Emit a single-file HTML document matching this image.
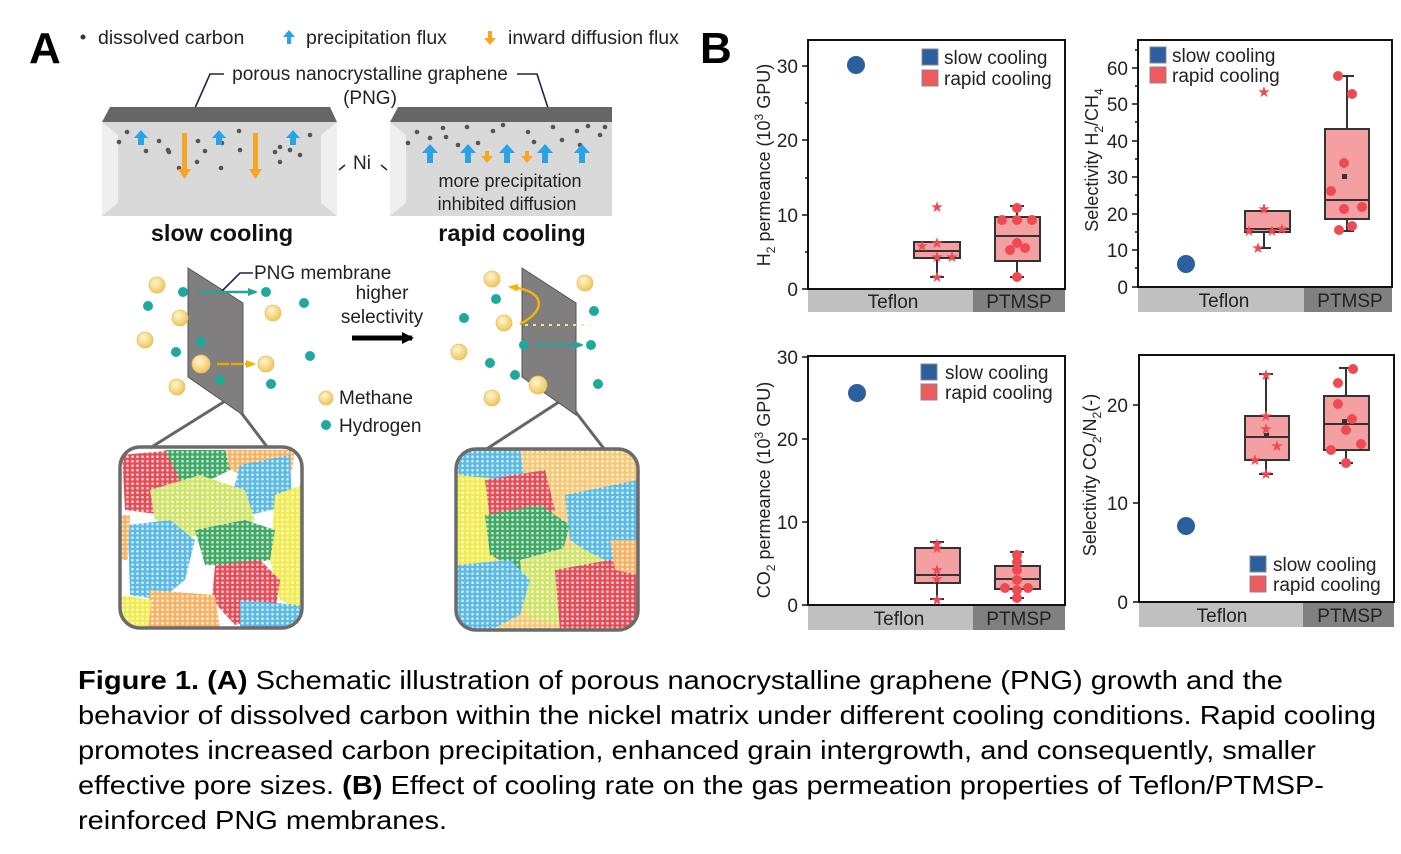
<!DOCTYPE html>
<html><head><meta charset="utf-8"><style>
html,body{margin:0;padding:0;background:#fff;}
svg{display:block;font-family:"Liberation Sans",Arial,sans-serif;}
</style></head><body>
<svg width="1401" height="854" viewBox="0 0 1401 854" xmlns="http://www.w3.org/2000/svg">
<defs>
<radialGradient id="me" cx="40%" cy="35%" r="65%"><stop offset="0" stop-color="#fff6d0"/><stop offset="1" stop-color="#efc65a"/></radialGradient>
<pattern id="hex" width="5" height="4.5" patternUnits="userSpaceOnUse"><circle cx="2.5" cy="2.2" r="1.3" fill="#fff" opacity="0.75"/></pattern>
<marker id="ta" markerUnits="userSpaceOnUse" markerWidth="10" markerHeight="10" refX="8" refY="5" orient="auto"><path d="M0,1 L10,5 L0,9z" fill="#2aa198"/></marker>
<marker id="oa" markerUnits="userSpaceOnUse" markerWidth="10" markerHeight="10" refX="8" refY="5" orient="auto"><path d="M0,1 L10,5 L0,9z" fill="#f4b400"/></marker>
<marker id="ka" markerUnits="userSpaceOnUse" markerWidth="14" markerHeight="14" refX="10" refY="7" orient="auto"><path d="M0,1 L12,7 L0,13z" fill="#000"/></marker>
</defs>

<text x="29" y="63" font-size="44" font-weight="bold">A</text>
<circle cx="83" cy="37" r="2.5" fill="#333"/>
<text x="98" y="44" font-size="19.5" fill="#222">dissolved carbon</text>
<path d="M289,30 l-6,7 h4 v7 h4 v-7 h4z" fill="#29a3e6"/>
<text x="306" y="44" font-size="19.5" fill="#222">precipitation flux</text>
<path d="M490,45 l-6,-7 h4 v-7 h4 v7 h4z" fill="#f6a623"/>
<text x="508" y="44" font-size="19.5" fill="#222">inward diffusion flux</text>

<text x="370" y="80" font-size="19" text-anchor="middle" fill="#222">porous nanocrystalline graphene</text>
<text x="370" y="104" font-size="19" text-anchor="middle" fill="#222">(PNG)</text>
<path d="M224,74 H210 L195,108" stroke="#1a2a44" stroke-width="1.6" fill="none"/>
<path d="M517,74 H537 L548,108" stroke="#1a2a44" stroke-width="1.6" fill="none"/>

<rect x="102" y="122" width="235" height="94" fill="#d9d9d9"/>
<polygon points="102,122 118,135 118,203 102,216" fill="#efefef"/>
<polygon points="337,122 321,135 321,203 337,216" fill="#efefef"/>
<polygon points="110,107 330,107 337,122 102,122" fill="#666"/>
<g fill="#555">
<circle cx="119" cy="142" r="2.3"/><circle cx="127" cy="132" r="2.3"/><circle cx="146" cy="151" r="2.3"/><circle cx="159" cy="141" r="2.3"/><circle cx="168" cy="150" r="2.3"/><circle cx="169" cy="152" r="2.3"/><circle cx="198" cy="141" r="2.3"/><circle cx="205" cy="151" r="2.3"/><circle cx="197" cy="162" r="2.3"/><circle cx="222" cy="143" r="2.3"/><circle cx="240" cy="150" r="2.3"/><circle cx="239" cy="131" r="2.3"/><circle cx="221" cy="168" r="2.3"/><circle cx="275" cy="152" r="2.3"/><circle cx="280" cy="147" r="2.3"/><circle cx="290" cy="150" r="2.3"/><circle cx="300" cy="155" r="2.3"/><circle cx="310" cy="135" r="2.3"/><circle cx="280" cy="162" r="2.3"/><circle cx="179" cy="168" r="2.3"/>
</g>
<g fill="#29a3e6">
<path d="M141,130 l-7,8 h4 v7 h6 v-7 h4z"/><path d="M219,130 l-7,8 h4 v7 h6 v-7 h4z"/><path d="M293,130 l-7,8 h4 v7 h6 v-7 h4z"/>
</g>
<g fill="#f6a623">
<path d="M182,133 h5 v36 h4 l-6.5,10 l-6.5,-10 h4z"/><path d="M253,133 h5 v36 h4 l-6.5,10 l-6.5,-10 h4z"/>
</g>
<text x="362" y="169" font-size="19" text-anchor="middle" fill="#222">Ni</text>
<path d="M339,170 l6,-5 M381,165 l6,5" stroke="#1a2a44" stroke-width="1.5"/>

<rect x="390" y="122" width="222" height="94" fill="#d9d9d9"/>
<polygon points="390,122 406,135 406,203 390,216" fill="#efefef"/>
<polygon points="398,107 612,107 612,122 390,122" fill="#666"/>
<g fill="#555">
<circle cx="408" cy="143" r="2.3"/><circle cx="417" cy="132" r="2.3"/><circle cx="430" cy="138" r="2.3"/><circle cx="443" cy="128" r="2.3"/><circle cx="446" cy="137" r="2.3"/><circle cx="467" cy="127" r="2.3"/><circle cx="493" cy="131" r="2.3"/><circle cx="503" cy="125" r="2.3"/><circle cx="478" cy="143" r="2.3"/><circle cx="528" cy="132" r="2.3"/><circle cx="553" cy="127" r="2.3"/><circle cx="534" cy="142" r="2.3"/><circle cx="562" cy="140" r="2.3"/><circle cx="577" cy="131" r="2.3"/><circle cx="588" cy="126" r="2.3"/><circle cx="600" cy="135" r="2.3"/><circle cx="605" cy="127" r="2.3"/><circle cx="580" cy="145" r="2.3"/><circle cx="458" cy="145" r="2.3"/>
</g>
<g fill="#29a3e6">
<path d="M430,144 l-8,9 h5 v10 h6 v-10 h5z"/><path d="M468,144 l-8,9 h5 v10 h6 v-10 h5z"/><path d="M507,144 l-8,9 h5 v10 h6 v-10 h5z"/><path d="M545,144 l-8,9 h5 v10 h6 v-10 h5z"/><path d="M582,144 l-8,9 h5 v10 h6 v-10 h5z"/>
</g>
<g fill="#f6a623"><path d="M485,151 h4 v5 h4 l-6,7 l-6,-7 h4z"/><path d="M525,151 h4 v5 h4 l-6,7 l-6,-7 h4z"/></g>
<text x="510" y="187" font-size="18" text-anchor="middle" fill="#222">more precipitation</text>
<text x="507" y="210" font-size="18" text-anchor="middle" fill="#222">inhibited diffusion</text>

<text x="222" y="241" font-size="23.5" font-weight="bold" text-anchor="middle" fill="#111">slow cooling</text>
<text x="512" y="241" font-size="23.5" font-weight="bold" text-anchor="middle" fill="#111">rapid cooling</text>

<path d="M230,398 L150,448 M233,402 L268,448" stroke="#666" stroke-width="3"/>
<path d="M565,398 L485,450 M568,402 L605,450" stroke="#666" stroke-width="3"/>
<polygon points="188,268 243,303 243,415 188,377" fill="#807e7e" stroke="#555" stroke-width="1"/>
<polygon points="522,268 576,303 576,415 522,377" fill="#807e7e" stroke="#555" stroke-width="1"/>
<path d="M253,273 H240 L220,293" stroke="#1a2a44" stroke-width="1.6" fill="none"/>
<text x="254" y="279" font-size="19" fill="#222">PNG membrane</text>
<text x="382" y="299" font-size="19" text-anchor="middle" fill="#222">higher</text>
<text x="382" y="323" font-size="19" text-anchor="middle" fill="#222">selectivity</text>
<line x1="352" y1="338" x2="412" y2="338" stroke="#000" stroke-width="5" marker-end="url(#ka)"/>

<g fill="url(#me)" stroke="#e8c060" stroke-width="0.8">
<circle cx="157" cy="285" r="8"/><circle cx="180" cy="318" r="8"/><circle cx="145" cy="340" r="8"/><circle cx="201" cy="364" r="9"/><circle cx="177" cy="387" r="8"/><circle cx="266" cy="364" r="8"/><circle cx="273" cy="313" r="8"/>
<circle cx="492" cy="279" r="8"/><circle cx="585" cy="283" r="8"/><circle cx="504" cy="323" r="8"/><circle cx="459" cy="352" r="8"/><circle cx="538" cy="385" r="9"/><circle cx="492" cy="398" r="8"/>
<circle cx="326" cy="398" r="7"/>
</g>
<g fill="#1fa99c">
<circle cx="183" cy="292" r="5"/><circle cx="266" cy="292" r="5"/><circle cx="148" cy="306" r="5"/><circle cx="304" cy="303" r="5"/><circle cx="176" cy="352" r="5"/><circle cx="201" cy="342" r="5"/><circle cx="220" cy="380" r="5"/><circle cx="310" cy="356" r="5"/><circle cx="271" cy="384" r="5"/>
<circle cx="496" cy="299" r="5"/><circle cx="464" cy="318" r="5"/><circle cx="594" cy="311" r="5"/><circle cx="524" cy="345" r="5"/><circle cx="591" cy="345" r="5"/><circle cx="490" cy="363" r="5"/><circle cx="515" cy="375" r="5"/><circle cx="598" cy="384" r="5"/>
<circle cx="326" cy="425" r="5"/>
</g>
<line x1="198" y1="292" x2="256" y2="292" stroke="#2aa198" stroke-width="2.5" marker-end="url(#ta)"/>
<line x1="217" y1="364" x2="254" y2="364" stroke="#e8a800" stroke-width="2.5" stroke-dasharray="12,2" marker-end="url(#oa)"/>
<line x1="536" y1="345" x2="582" y2="345" stroke="#2aa198" stroke-width="2.5" marker-end="url(#ta)"/>
<path d="M520,324 C548,310 545,290 510,287" stroke="#f4b400" stroke-width="2.5" fill="none" marker-end="url(#oa)"/>
<line x1="525" y1="325" x2="590" y2="325" stroke="#f9e29a" stroke-width="2" stroke-dasharray="3,5"/>
<text x="339" y="404" font-size="19" fill="#222">Methane</text>
<text x="339" y="432" font-size="19" fill="#222">Hydrogen</text>

<clipPath id="cl"><rect x="120" y="447" width="182" height="181" rx="20"/></clipPath>
<clipPath id="cr"><rect x="456" y="449" width="182" height="181" rx="20"/></clipPath>
<g clip-path="url(#cl)" opacity="0.85">
<polygon points="122,455 175,450 190,475 185,500 165,515 125,510" fill="#e0303c"/>
<polygon points="165,450 230,450 230,470 200,485 180,480" fill="#1f9a4a"/>
<polygon points="225,450 295,450 292,470 255,480 230,470" fill="#f5a54a"/>
<polygon points="240,465 290,455 292,505 250,515 232,495" fill="#3fb0e0"/>
<polygon points="150,490 200,475 245,490 255,520 230,540 185,535 155,520" fill="#c8e050"/>
<polygon points="275,495 302,485 302,610 280,600 270,560" fill="#f0e830"/>
<polygon points="128,525 170,520 195,540 185,580 160,600 130,595" fill="#3fb0e0"/>
<polygon points="195,530 245,520 275,530 270,560 240,565 205,565" fill="#1f9a4a"/>
<polygon points="215,565 260,560 280,580 275,615 235,625 212,600" fill="#e0303c"/>
<polygon points="150,590 215,595 220,628 145,628" fill="#f5a54a"/>
<polygon points="120,595 152,600 148,628 120,628" fill="#f0e830"/>
<polygon points="240,600 300,605 300,628 240,628" fill="#3fb0e0"/>
<polygon points="120,515 130,515 128,560 120,560" fill="#f5a54a"/>
</g>
<rect x="120" y="447" width="182" height="181" rx="20" fill="url(#hex)"/>
<rect x="120" y="447" width="182" height="181" rx="20" fill="none" stroke="#6b6b6b" stroke-width="3.5"/>
<g clip-path="url(#cr)" opacity="0.85">
<rect x="456" y="449" width="182" height="181" fill="#f5c060"/>
<polygon points="456,449 520,449 525,485 470,485 456,470" fill="#3fb0e0"/>
<polygon points="456,475 490,478 495,560 470,605 456,600" fill="#f0e830"/>
<polygon points="485,480 545,470 555,510 530,530 490,520" fill="#e0303c"/>
<polygon points="485,515 540,505 570,525 560,560 520,570 490,555" fill="#1f9a4a"/>
<polygon points="565,495 638,480 638,570 600,560 570,540" fill="#3fb0e0"/>
<polygon points="520,560 575,545 605,560 600,600 560,625 525,615" fill="#c8e050"/>
<polygon points="456,565 510,560 530,580 520,615 490,630 456,630" fill="#3fb0e0"/>
<polygon points="555,570 610,560 638,575 638,630 560,630" fill="#e0303c"/>
<polygon points="610,540 638,540 638,575 615,570" fill="#f5a54a"/>
</g>
<rect x="456" y="449" width="182" height="181" rx="20" fill="url(#hex)"/>
<rect x="456" y="449" width="182" height="181" rx="20" fill="none" stroke="#6b6b6b" stroke-width="3.5"/>

<text x="700" y="63" font-size="44" font-weight="bold">B</text>

<g font-size="19" fill="#222">
<rect x="808" y="40" width="257" height="249" fill="none" stroke="#111" stroke-width="2"/>
<rect x="808" y="290" width="165" height="22" fill="#c0c0c0"/><rect x="973" y="290" width="92" height="22" fill="#808080"/>
<text x="893" y="308" text-anchor="middle">Teflon</text><text x="1019" y="308" text-anchor="middle">PTMSP</text>
<g stroke="#111" stroke-width="1.5"><path d="M802,289h6 M802,215h6 M802,140h6 M802,66h6 M805,252h3 M805,178h3 M805,103h3"/></g>
<g text-anchor="end"><text x="798" y="296">0</text><text x="798" y="222">10</text><text x="798" y="147">20</text><text x="798" y="73">30</text></g>
<text transform="translate(770,165) rotate(-90)" text-anchor="middle" font-size="18">H<tspan font-size="12" dy="5">2</tspan><tspan dy="-5"> permeance (10</tspan><tspan font-size="12" dy="-7">3</tspan><tspan dy="7"> GPU)</tspan></text>
<circle cx="856" cy="65" r="9" fill="#2b5f9e"/>
<rect x="922" y="49" width="16" height="16" fill="#2b5f9e" stroke="#888"/><rect x="922" y="70" width="16" height="16" fill="#ef5a5f" stroke="#888"/>
<text x="944" y="64">slow cooling</text><text x="944" y="85">rapid cooling</text>
<g stroke="#333" stroke-width="2" fill="#f4a0a2">
<path d="M937,242 V277 M930,277h14" fill="none"/><rect x="914" y="242" width="46" height="16"/><path d="M914,251h46"/>
<path d="M1017,206 V217 M1017,261 V277 M1010,206h14 M1010,277h14" fill="none"/><rect x="995" y="217" width="45" height="44"/><path d="M995,236h45"/>
</g>
<g fill="#ef4a52" font-size="15" text-anchor="middle"><text x="937" y="212">★</text><text x="922" y="251">★</text><text x="937" y="248">★</text><text x="952" y="262">★</text><text x="937" y="262">★</text><text x="937" y="282">★</text>
<circle cx="1017" cy="208" r="5"/><circle cx="1002" cy="220" r="5"/><circle cx="1017" cy="220" r="5"/><circle cx="1032" cy="220" r="5"/><circle cx="1017" cy="243" r="5"/><circle cx="1025" cy="248" r="5"/><circle cx="1010" cy="250" r="5"/><circle cx="1017" cy="277" r="5"/></g>

<rect x="1138" y="40" width="254" height="247" fill="none" stroke="#111" stroke-width="2"/>
<rect x="1138" y="288" width="166" height="24" fill="#c0c0c0"/><rect x="1304" y="288" width="88" height="24" fill="#808080"/>
<text x="1224" y="307" text-anchor="middle">Teflon</text><text x="1350" y="307" text-anchor="middle">PTMSP</text>
<g stroke="#111" stroke-width="1.5"><path d="M1132,287h6 M1132,250h6 M1132,214h6 M1132,177h6 M1132,141h6 M1132,104h6 M1132,68h6 M1135,268h3 M1135,232h3 M1135,195h3 M1135,159h3 M1135,122h3 M1135,86h3 M1135,50h3"/></g>
<g text-anchor="end"><text x="1128" y="294">0</text><text x="1128" y="257">10</text><text x="1128" y="221">20</text><text x="1128" y="184">30</text><text x="1128" y="148">40</text><text x="1128" y="111">50</text><text x="1128" y="75">60</text></g>
<text transform="translate(1098,160) rotate(-90)" text-anchor="middle" font-size="18">Selectivity H<tspan font-size="12" dy="5">2</tspan><tspan dy="-5">/CH</tspan><tspan font-size="12" dy="5">4</tspan></text>
<circle cx="1186" cy="264" r="9" fill="#2b5f9e"/>
<rect x="1150" y="47" width="16" height="16" fill="#2b5f9e" stroke="#888"/><rect x="1150" y="67" width="16" height="16" fill="#ef5a5f" stroke="#888"/>
<text x="1172" y="62">slow cooling</text><text x="1172" y="82">rapid cooling</text>
<g stroke="#333" stroke-width="2" fill="#f4a0a2">
<path d="M1264,205 V211 M1264,232 V248 M1257,248h14" fill="none"/><rect x="1245" y="211" width="45" height="21"/><path d="M1245,229h45"/>
<path d="M1347,76 V129 M1347,219 V231 M1340,76h14 M1340,231h14" fill="none"/><rect x="1325" y="129" width="44" height="90"/><path d="M1325,200h44"/>
</g>
<g fill="#ef4a52" font-size="15" text-anchor="middle"><text x="1264" y="97">★</text><text x="1264" y="214">★</text><text x="1249" y="236">★</text><text x="1272" y="236">★</text><text x="1282" y="234">★</text><text x="1258" y="253">★</text>
<circle cx="1338" cy="76" r="5"/><circle cx="1352" cy="94" r="5"/><circle cx="1344" cy="163" r="5"/><circle cx="1331" cy="191" r="5"/><circle cx="1344" cy="209" r="5"/><circle cx="1362" cy="207" r="5"/><circle cx="1339" cy="230" r="5"/><circle cx="1352" cy="226" r="5"/></g>
<rect x="1342" y="174" width="5" height="5" fill="#333"/>

<rect x="808" y="356" width="257" height="249" fill="none" stroke="#111" stroke-width="2"/>
<rect x="808" y="606" width="165" height="24" fill="#c0c0c0"/><rect x="973" y="606" width="92" height="24" fill="#808080"/>
<text x="899" y="625" text-anchor="middle">Teflon</text><text x="1019" y="625" text-anchor="middle">PTMSP</text>
<g stroke="#111" stroke-width="1.5"><path d="M802,605h6 M802,522h6 M802,439h6 M802,357h6"/></g>
<g text-anchor="end"><text x="798" y="612">0</text><text x="798" y="529">10</text><text x="798" y="446">20</text><text x="798" y="364">30</text></g>
<text transform="translate(770,490) rotate(-90)" text-anchor="middle" font-size="18">CO<tspan font-size="12" dy="5">2</tspan><tspan dy="-5">  permeance (10</tspan><tspan font-size="12" dy="-7">3</tspan><tspan dy="7"> GPU)</tspan></text>
<circle cx="857" cy="393" r="9" fill="#2b5f9e"/>
<rect x="921" y="364" width="16" height="16" fill="#2b5f9e" stroke="#888"/><rect x="921" y="384" width="16" height="16" fill="#ef5a5f" stroke="#888"/>
<text x="945" y="379">slow cooling</text><text x="945" y="399">rapid cooling</text>
<g stroke="#333" stroke-width="2" fill="#f4a0a2">
<path d="M937,542 V548 M937,583 V599 M930,542h14 M930,599h14" fill="none"/><rect x="915" y="548" width="45" height="35"/><path d="M915,575h45"/>
<path d="M1017,552 V566 M1017,589 V598 M1010,552h14 M1010,598h14" fill="none"/><rect x="995" y="566" width="45" height="23"/><path d="M995,579h45"/>
</g>
<g fill="#ef4a52" font-size="15" text-anchor="middle"><text x="937" y="549">★</text><text x="937" y="553">★</text><text x="937" y="575">★</text><text x="937" y="584">★</text><text x="937" y="605">★</text>
<circle cx="1017" cy="555" r="5"/><circle cx="1017" cy="562" r="5"/><circle cx="1017" cy="570" r="5"/><circle cx="1017" cy="580" r="5"/><circle cx="1005" cy="588" r="5"/><circle cx="1028" cy="588" r="5"/><circle cx="1017" cy="590" r="5"/><circle cx="1017" cy="598" r="5"/></g>

<rect x="1139" y="355" width="255" height="247" fill="none" stroke="#111" stroke-width="2"/>
<rect x="1139" y="603" width="164" height="24" fill="#c0c0c0"/><rect x="1303" y="603" width="91" height="24" fill="#808080"/>
<text x="1222" y="622" text-anchor="middle">Teflon</text><text x="1350" y="622" text-anchor="middle">PTMSP</text>
<g stroke="#111" stroke-width="1.5"><path d="M1133,602h6 M1133,503h6 M1133,405h6"/></g>
<g text-anchor="end"><text x="1128" y="609">0</text><text x="1128" y="510">10</text><text x="1128" y="412">20</text></g>
<text transform="translate(1096,475) rotate(-90)" text-anchor="middle" font-size="18">Selectivity CO<tspan font-size="12" dy="5">2</tspan><tspan dy="-5">/N</tspan><tspan font-size="12" dy="5">2</tspan><tspan dy="-5">(-)</tspan></text>
<circle cx="1186" cy="526" r="9" fill="#2b5f9e"/>
<rect x="1250" y="556" width="16" height="16" fill="#2b5f9e" stroke="#888"/><rect x="1250" y="576" width="16" height="16" fill="#ef5a5f" stroke="#888"/>
<text x="1273" y="571">slow cooling</text><text x="1273" y="591">rapid cooling</text>
<g stroke="#333" stroke-width="2" fill="#f4a0a2">
<path d="M1266,374 V416 M1266,460 V474 M1259,374h14 M1259,474h14" fill="none"/><rect x="1245" y="416" width="44" height="44"/><path d="M1245,437h44"/>
<path d="M1346,368 V396 M1346,450 V463 M1339,368h14 M1339,463h14" fill="none"/><rect x="1324" y="396" width="45" height="54"/><path d="M1324,424h45"/>
</g>
<g fill="#ef4a52" font-size="15" text-anchor="middle"><text x="1266" y="380">★</text><text x="1266" y="421">★</text><text x="1266" y="434">★</text><text x="1277" y="451">★</text><text x="1255" y="465">★</text><text x="1266" y="479">★</text>
<circle cx="1353" cy="369" r="5"/><circle cx="1338" cy="383" r="5"/><circle cx="1338" cy="404" r="5"/><circle cx="1352" cy="419" r="5"/><circle cx="1346" cy="430" r="5"/><circle cx="1361" cy="444" r="5"/><circle cx="1331" cy="450" r="5"/><circle cx="1346" cy="463" r="5"/></g>
<rect x="1342" y="419" width="5" height="5" fill="#333"/><rect x="1264" y="433" width="5" height="5" fill="#333"/>
</g>

<g font-size="26" fill="#000">
<text x="78" y="689" textLength="1205" lengthAdjust="spacingAndGlyphs"><tspan font-weight="bold">Figure 1. (A)</tspan> Schematic illustration of porous nanocrystalline graphene (PNG) growth and the</text>
<text x="78" y="724" textLength="1298" lengthAdjust="spacingAndGlyphs">behavior of dissolved carbon within the nickel matrix under different cooling conditions. Rapid cooling</text>
<text x="78" y="759" textLength="1238" lengthAdjust="spacingAndGlyphs">promotes increased carbon precipitation, enhanced grain intergrowth, and consequently, smaller</text>
<text x="78" y="794" textLength="1246" lengthAdjust="spacingAndGlyphs">effective pore sizes. <tspan font-weight="bold">(B)</tspan> Effect of cooling rate on the gas permeation properties of Teflon/PTMSP-</text>
<text x="78" y="829" textLength="369" lengthAdjust="spacingAndGlyphs">reinforced PNG membranes.</text>
</g>
</svg>
</body></html>
